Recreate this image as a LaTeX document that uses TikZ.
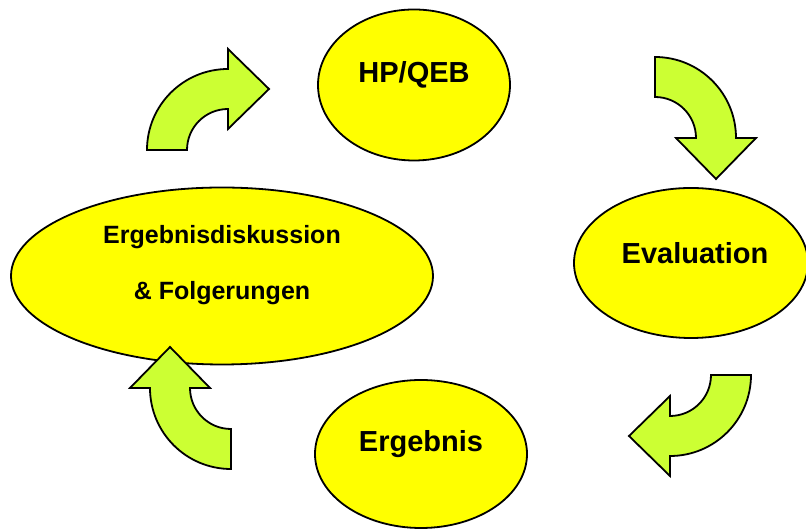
\documentclass[tikz,border=0pt]{standalone}
\usepackage{fontspec}
\setmainfont{Liberation Sans}
\usetikzlibrary{shapes.geometric,calc}

\definecolor{phaseyellow}{RGB}{255,255,0}
\definecolor{turngreen}{RGB}{204,255,51}

\tikzset{phase/.style={ellipse,draw=black,fill=phaseyellow,line width=1.8pt,inner sep=0pt},
phase label/.style={font=\bfseries\fontsize{29}{34}\selectfont,inner sep=0pt},
long label/.style={font=\bfseries\fontsize{25}{56}\selectfont,align=center,inner sep=0pt},
turn/.style={draw=black,fill=turngreen,line width=1.8pt,line join=miter}}

% curved block arrow: #1 centre, #2 tail angle, #3 head angle (clockwise)
\newcommand{\turnarrow}[3]{%
  \draw[turn] ($(#1)+(#2:81)$) arc[start angle=#2,end angle=#3,radius=81]
    -- ($(#1)+(#3:101)$) -- ($(#1)+(#3:61)+(#3-90:41)$) -- ($(#1)+(#3:21)$)
    -- ($(#1)+(#3:41)$) arc[start angle=#3,end angle=#2,radius=41] -- cycle;}

\begin{document}
\begin{tikzpicture}[x=1pt,y=1pt]
\useasboundingbox (0,0) rectangle (806,529);

%% Coordinates of the phases and the turning arrows.
\coordinate (p hp) at (414,444);
\coordinate (p eval) at (691,266);
\coordinate (p erg) at (421,75);
\coordinate (p disk) at (222,253);
\coordinate (t1) at (228,379);
\coordinate (t2) at (655,391);
\coordinate (t3) at (670,154);
\coordinate (t4) at (231,141);

%% phases
\node [phase,minimum width=192,minimum height=151] (hp) at (p hp) {};
\node [phase,minimum width=234,minimum height=150] (eval) at (p eval) {};
\node [phase,minimum width=212,minimum height=148] (erg) at (p erg) {};
\node [phase,minimum width=422,minimum height=177] (disk) at (p disk) {};

%% phase labels
\node [phase label] (hp text) at ([yshift=10]hp.center) {HP/QEB};
\node [phase label] (eval text) at ([xshift=4,yshift=10]eval.center) {Evaluation};
\node [phase label] (erg text) at ([yshift=10]erg.center) {Ergebnis};
\node [long label] (disk text) at ([yshift=11]disk.center) {Ergebnisdiskussion\\\& Folgerungen};

%% turning arrows
\turnarrow{t1}{180}{90}
\turnarrow{t2}{90}{0}
\turnarrow{t3}{0}{-90}
\turnarrow{t4}{-90}{-180}

\end{tikzpicture}
\end{document}
